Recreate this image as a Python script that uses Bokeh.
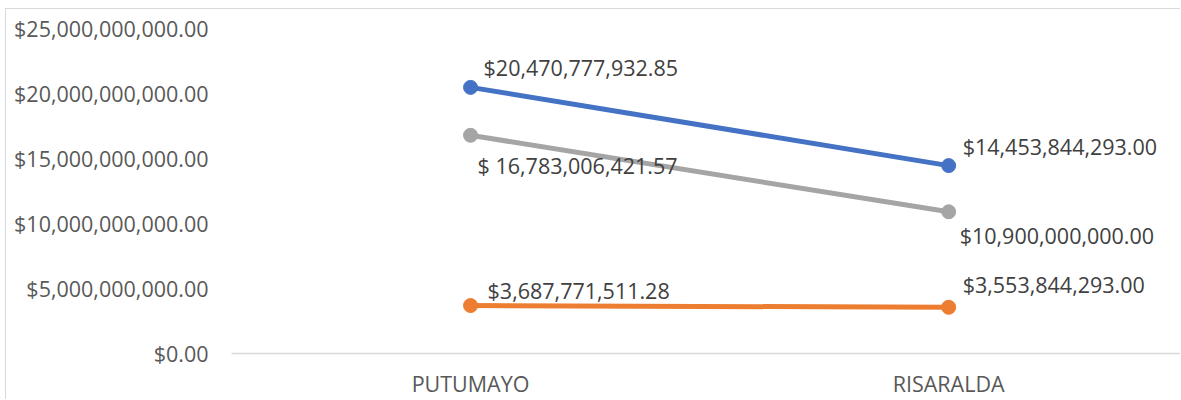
from bokeh.plotting import figure
from bokeh.models import Range1d, NumeralTickFormatter, FixedTicker, ColumnDataSource
from bokeh.core.properties import value
from bokeh.embed import file_html
from bokeh.resources import INLINE

# ---- data ----
categories = ["PUTUMAYO", "RISARALDA"]
series_blue = [20470777932.85, 14453844293.00]
series_orange = [3687771511.28, 3553844293.00]
series_gray = [16783006421.57, 10900000000.00]
labels_blue = ["$20,470,777,932.85", "$14,453,844,293.00"]
labels_orange = ["$3,687,771,511.28", "$3,553,844,293.00"]
labels_gray = ["$ 16,783,006,421.57", "$10,900,000,000.00"]
y_ticks = [0, 5e9, 10e9, 15e9, 20e9, 25e9]

FONT = "Open Sans"
FS = "21.5px"
xs = list(range(len(categories)))

p = figure(width=1175, height=391, output_backend="svg", toolbar_location=None,
           x_range=Range1d(-0.5, 1.487), y_range=Range1d(0, 25e9),
           min_border_left=225, min_border_right=0, min_border_top=19, min_border_bottom=45)
p.margin = (8, 0, 0, 5)
p.styles = {"border-top": "1px solid #d9d9d9", "border-left": "1px solid #d9d9d9"}
p.outline_line_color = None
p.xgrid.grid_line_color = None
p.ygrid.grid_line_color = None

# y axis
p.yaxis.ticker = FixedTicker(ticks=y_ticks)
p.yaxis.formatter = NumeralTickFormatter(format="$0,0.00")
p.yaxis.axis_line_color = None
p.yaxis.major_tick_line_color = None
p.yaxis.major_tick_out = 0
p.yaxis.major_tick_in = 0
p.yaxis.minor_tick_line_color = None
p.yaxis.major_label_standoff = 23
p.yaxis.major_label_text_font = FONT
p.yaxis.major_label_text_font_size = FS
p.yaxis.major_label_text_color = "#595959"

# x axis
p.xaxis.ticker = FixedTicker(ticks=xs)
p.xaxis.major_label_overrides = {i: c for i, c in enumerate(categories)}
p.xaxis.axis_line_color = "#d9d9d9"
p.xaxis.axis_line_width = 1.5
p.xaxis.major_tick_line_color = None
p.xaxis.major_tick_out = 0
p.xaxis.major_tick_in = 0
p.xaxis.minor_tick_line_color = None
p.xaxis.major_label_standoff = 15
p.xaxis.major_label_text_font = FONT
p.xaxis.major_label_text_font_size = FS
p.xaxis.major_label_text_color = "#595959"

series = [
    (series_blue, labels_blue, "#4472C4", [(13, -20), (14, -19)]),
    (series_orange, labels_orange, "#ED7D31", [(17, -15), (14, -23)]),
    (series_gray, labels_gray, "#A5A5A5", [(7, 30), (11, 24)]),
]

for vals, labs, color, offs in series:
    src = ColumnDataSource(dict(x=xs, y=vals, t=labs,
                                dx=[o[0] for o in offs], dy=[o[1] for o in offs]))
    p.line("x", "y", source=src, line_color=color, line_width=5)
    p.scatter("x", "y", source=src, size=14, fill_color=color, line_color=color)
    p.text("x", "y", text="t", source=src, x_offset="dx", y_offset="dy",
           text_font=value(FONT), text_font_size=FS, text_color="#404040",
           text_align="left", text_baseline="middle")

open("out.html", "w").write(file_html(p, INLINE))
